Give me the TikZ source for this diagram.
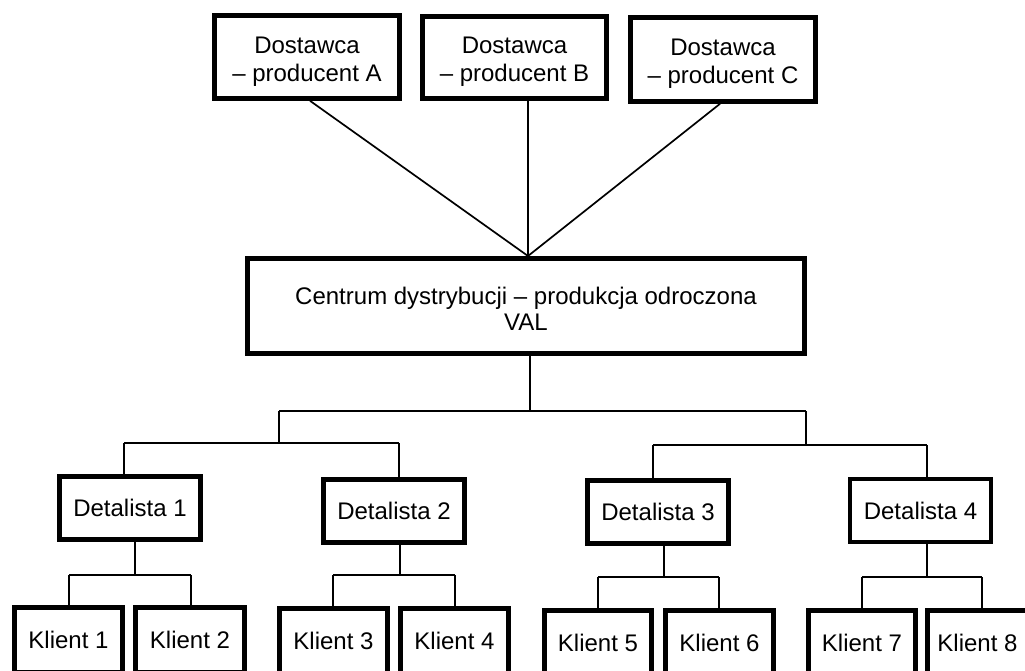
\documentclass[tikz,border=0pt]{standalone}
\usepackage{fontspec}
\setmainfont{Liberation Sans}
\begin{document}
\begin{tikzpicture}[x=1pt,y=-1pt,
  tbox/.style={draw=black,line width=4.6pt,fill=white,inner sep=0pt,
    align=center,font=\fontsize{24}{28}\selectfont},
  conn/.style={draw=black,line width=1.7pt}]
\useasboundingbox (0,0) rectangle (1025,670);
\clip (0,0) rectangle (1025,670);

% suppliers
\node[tbox,minimum width=185pt,minimum height=83pt] (A) at (307,57) {\rule{0pt}{25pt}Dostawca\\– producent A};
\node[tbox,minimum width=184pt,minimum height=82pt] (B) at (514.5,57.5) {\rule{0pt}{25pt}Dostawca\\– producent B};
\node[tbox,minimum width=185pt,minimum height=84pt] (C) at (723,59.5) {\rule{0pt}{25pt}Dostawca\\– producent C};

% distribution centre
\node[tbox,minimum width=557pt,minimum height=95pt,font=\fontsize{24}{26}\selectfont] (VAL) at (526,306)
  {\rule{0pt}{23pt}Centrum dystrybucji – produkcja odroczona\\VAL};

% retailers
\node[tbox,minimum width=141pt,minimum height=63pt] (D1) at (130,508) {Detalista 1};
\node[tbox,minimum width=141pt,minimum height=63pt] (D2) at (394,511) {Detalista 2};
\node[tbox,minimum width=141pt,minimum height=63pt] (D3) at (658,512) {Detalista 3};
\node[tbox,minimum width=141pt,minimum height=63pt] (D4) at (920.5,510.5) {Detalista 4};

% customers
\node[tbox,minimum width=108pt,minimum height=65pt] (K1) at (68.5,640) {Klient 1};
\node[tbox,minimum width=109pt,minimum height=65pt] (K2) at (190,640) {Klient 2};
\node[tbox,minimum width=108pt,minimum height=65pt] (K3) at (333.5,641) {Klient 3};
\node[tbox,minimum width=108pt,minimum height=65pt] (K4) at (454.5,641) {Klient 4};
\node[tbox,minimum width=107pt,minimum height=65pt] (K5) at (598,643) {Klient 5};
\node[tbox,minimum width=108pt,minimum height=65pt] (K6) at (719.5,643) {Klient 6};
\node[tbox,minimum width=107pt,minimum height=65pt] (K7) at (862,643) {Klient 7};
\node[tbox,minimum width=100pt,minimum height=65pt] (K8) at (977.5,643) {Klient 8};

% junction points
\coordinate (hub) at (528,256);
\coordinate (xA) at (310,0);
\coordinate (xC) at (720,0);
\coordinate (j0) at (530,411);
\coordinate (jL) at (279,411);
\coordinate (jR) at (806,411);
\coordinate (jL2) at (279,443);
\coordinate (jR2) at (806,445);
\coordinate (t1) at (124,443);
\coordinate (t2) at (399,443);
\coordinate (t3) at (653,445);
\coordinate (t4) at (927,445);
\coordinate (m1) at (135,575);
\coordinate (m2) at (400,575);
\coordinate (m3) at (664,577);
\coordinate (m4) at (927,577);
\coordinate (k1) at (69,575);
\coordinate (k2) at (191,575);
\coordinate (k3) at (333,575);
\coordinate (k4) at (455,575);
\coordinate (k5) at (598,577);
\coordinate (k6) at (719,577);
\coordinate (k7) at (862,577);
\coordinate (k8) at (982,577);

% suppliers to centre
\draw[conn] (A.south -| xA) -- (hub);
\draw[conn] (B.south -| hub) -- (hub);
\draw[conn] (C.south -| xC) -- (hub);

% centre to retailers
\draw[conn] (VAL.south -| j0) -- (j0);
\draw[conn] (jL) -- (jR);
\draw[conn] (jL) -- (jL2);
\draw[conn] (jR) -- (jR2);
\draw[conn] (t1) -- (t2);
\draw[conn] (t3) -- (t4);
\draw[conn] (t1) -- (D1.north -| t1);
\draw[conn] (t2) -- (D2.north -| t2);
\draw[conn] (t3) -- (D3.north -| t3);
\draw[conn] (t4) -- (D4.north -| t4);

% retailers to customers
\draw[conn] (D1.south -| m1) -- (m1);
\draw[conn] (D2.south -| m2) -- (m2);
\draw[conn] (D3.south -| m3) -- (m3);
\draw[conn] (D4.south -| m4) -- (m4);
\draw[conn] (k1) -- (k2);
\draw[conn] (k3) -- (k4);
\draw[conn] (k5) -- (k6);
\draw[conn] (k7) -- (k8);
\draw[conn] (k1) -- (K1.north -| k1);
\draw[conn] (k2) -- (K2.north -| k2);
\draw[conn] (k3) -- (K3.north -| k3);
\draw[conn] (k4) -- (K4.north -| k4);
\draw[conn] (k5) -- (K5.north -| k5);
\draw[conn] (k6) -- (K6.north -| k6);
\draw[conn] (k7) -- (K7.north -| k7);
\draw[conn] (k8) -- (K8.north -| k8);
\end{tikzpicture}
\end{document}
